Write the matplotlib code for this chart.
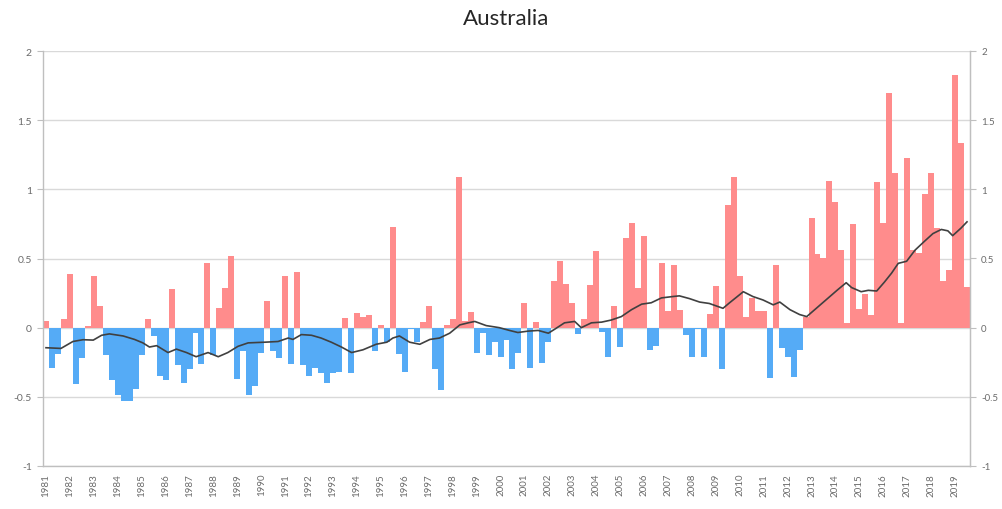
import matplotlib
matplotlib.use("Agg")
import matplotlib.pyplot as plt
import numpy as np

plt.rcParams['font.family'] = ['Lato', 'DejaVu Sans']

title = "Australia"
years = [str(y) for y in range(1981, 2020)]

# seasonal anomaly values, 1981 Q1 .. 2019 Q3
anomaly = [
    0.05, -0.29, -0.19, 0.065, 0.385, -0.41, -0.22, 0.01, 0.37, 0.16,
    -0.2, -0.38, -0.49, -0.53, -0.53, -0.44, -0.2, 0.06, -0.06, -0.35,
    -0.38, 0.28, -0.27, -0.4, -0.3, -0.04, -0.26, 0.47, -0.2, 0.14,
    0.29, 0.52, -0.37, -0.17, -0.49, -0.42, -0.18, 0.19, -0.17, -0.22,
    0.375, -0.26, 0.405, -0.27, -0.35, -0.29, -0.33, -0.4, -0.33, -0.32,
    0.07, -0.33, 0.105, 0.075, 0.09, -0.17, 0.02, -0.1, 0.73, -0.19,
    -0.32, -0.01, -0.1, 0.04, 0.155, -0.3, -0.45, 0.02, 0.06, 1.09,
    0.05, 0.115, -0.18, -0.04, -0.2, -0.1, -0.21, -0.09, -0.3, -0.18,
    0.18, -0.29, 0.04, -0.255, -0.1, 0.34, 0.48, 0.315, 0.18, -0.045,
    0.06, 0.305, 0.555, -0.03, -0.21, 0.155, -0.14, 0.65, 0.755, 0.285,
    0.665, -0.165, -0.135, 0.465, 0.12, 0.455, 0.13, -0.05, -0.21, -0.01,
    -0.21, 0.1, 0.3, -0.3, 0.885, 1.09, 0.37, 0.075, 0.215, 0.12,
    0.12, -0.365, 0.455, -0.15, -0.215, -0.36, -0.165, 0.08, 0.79, 0.53,
    0.505, 1.06, 0.91, 0.565, 0.035, 0.75, 0.135, 0.24, 0.09, 1.05,
    0.755, 1.7, 1.115, 0.035, 1.225, 0.56, 0.54, 0.965, 1.12, 0.72,
    0.34, 0.415, 1.83, 1.335, 0.295,
]

# smoothed trend line: (season index, value)
trend_t = [0, 2.5, 4.5, 6.2, 7.9, 9.3, 10.6, 12.9, 14.8, 16.2, 17.3, 18.5, 20.4,
           21.8, 23.5, 25.1, 27.1, 28.8, 30.4, 32.1, 33.8, 36.6, 38.8, 40.5, 41.3,
           42.7, 44.4, 46.0, 47.7, 49.4, 51.1, 53, 55.2, 57, 58, 59.1, 60.8, 62.5,
           64.2, 65.8, 67.5, 69.2, 70.6, 71.7, 73.6, 75.8, 77.5, 78.9, 80.6, 82.3,
           84, 85.1, 86.7, 88.4, 89.5, 91.2, 92.9, 94.5, 96.2, 97.9, 99.6, 101.2,
           102.9, 104.8, 105.9, 107.6, 109.3, 110.9, 113.2, 114.3, 116.6, 118.2,
           119.9, 121.6, 122.7, 124.4, 126, 127.2, 128.8, 130.8, 132.4, 133.8,
           134.7, 136.3, 137.5, 138.9, 140.2, 141.4, 142.5, 143.9, 145.3, 146.9,
           148.3, 149.7, 150.8, 151.6, 153, 154]
trend_v = [-0.145, -0.15, -0.1, -0.087, -0.09, -0.055, -0.045, -0.06, -0.085, -0.11,
           -0.14, -0.13, -0.18, -0.155, -0.18, -0.21, -0.18, -0.21, -0.18, -0.135,
           -0.11, -0.105, -0.1, -0.075, -0.085, -0.05, -0.055, -0.075, -0.105, -0.14,
           -0.18, -0.16, -0.12, -0.105, -0.075, -0.06, -0.105, -0.12, -0.085, -0.075,
           -0.04, 0.02, 0.035, 0.045, 0.015, 0.0, -0.02, -0.035, -0.025, -0.02,
           -0.04, -0.01, 0.035, 0.045, 0.0, 0.035, 0.04, 0.055, 0.08, 0.13,
           0.17, 0.18, 0.215, 0.225, 0.23, 0.21, 0.185, 0.175, 0.14, 0.18,
           0.26, 0.225, 0.2, 0.165, 0.185, 0.13, 0.095, 0.08, 0.14, 0.215,
           0.275, 0.325, 0.29, 0.26, 0.27, 0.265, 0.33, 0.395, 0.465, 0.48,
           0.56, 0.625, 0.68, 0.71, 0.7, 0.665, 0.72, 0.765]

yticks = [-1, -0.5, 0, 0.5, 1, 1.5, 2]
ytick_labels = ["-1", "-0.5", "0", "0.5", "1", "1.5", "2"]

RED = "#ff8c8c"
BLUE = "#55abf6"
GRID = "#d9d9d9"
TXT = "#6b6b6b"

fig = plt.figure(figsize=(10.02, 5.10), dpi=100)
ax = fig.add_axes([43 / 1002, 43 / 510, 927 / 1002, 415 / 510])

x = np.arange(len(anomaly))
vals = np.array(anomaly)
colors = [RED if v >= 0 else BLUE for v in vals]
ax.bar(x, vals, width=1.0, color=colors, linewidth=0, zorder=2)
ax.plot(trend_t, trend_v, color="#404040", lw=1.2, zorder=3)

ax.set_xlim(-0.5, len(anomaly) - 0.5)
ax.set_ylim(-1, 2)
ax.set_yticks(yticks)
ax.set_yticklabels(ytick_labels)
ax.yaxis.grid(True, color=GRID, lw=1.0, zorder=0)
ax.set_axisbelow(True)

ax.set_xticks(np.arange(0, len(anomaly), 4))
ax.set_xticklabels(years[:len(range(0, len(anomaly), 4))], rotation=90)
ax.tick_params(axis='x', length=0, pad=5, labelsize=7, labelcolor=TXT)
ax.tick_params(axis='y', length=4, width=0.8, color="#bfbfbf", pad=4,
               labelsize=7.5, labelcolor=TXT)

for s in ["top"]:
    ax.spines[s].set_visible(False)
for s in ["left", "right", "bottom"]:
    ax.spines[s].set_color("#bfbfbf")
    ax.spines[s].set_linewidth(1.0)

ax2 = ax.twinx()
ax2.set_ylim(-1, 2)
ax2.set_yticks(yticks)
ax2.set_yticklabels(ytick_labels)
ax2.tick_params(axis='y', length=4, width=0.8, color="#bfbfbf", pad=4,
                labelsize=7, labelcolor=TXT)
for s in ["top", "left", "bottom"]:
    ax2.spines[s].set_visible(False)
ax2.spines["right"].set_color("#bfbfbf")

fig.text(0.505, 0.962, title, ha="center", va="center", fontsize=16, color="#262626")

fig.savefig("out.png", dpi=100)
